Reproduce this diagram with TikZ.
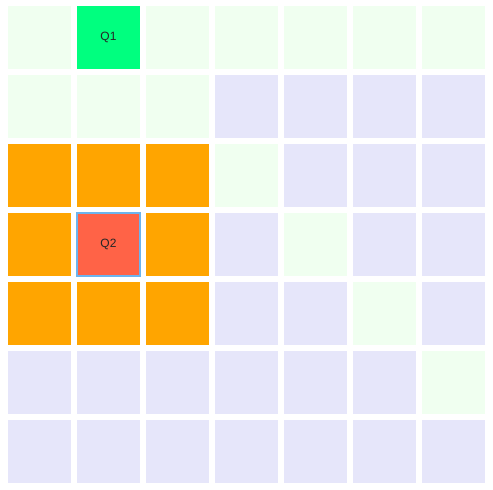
\documentclass[tikz,border=0pt]{standalone}
\usepackage{fontspec}
\setmainfont{Liberation Sans}
\definecolor{honey}{HTML}{F0FFF0}
\definecolor{lav}{HTML}{E6E6FA}
\definecolor{orng}{HTML}{FFA500}
\definecolor{spring}{HTML}{00FF7F}
\definecolor{tomato}{HTML}{FF6347}
\definecolor{edgeblue}{HTML}{6CB4EE}
\tikzset{
  cell/.style={rectangle, minimum size=63pt, inner sep=0pt, outer sep=0pt, font=\fontsize{12}{14}\selectfont, text=black!85},
}

\begin{document}
\begin{tikzpicture}[x=1pt, y=-1pt]
  \useasboundingbox (0,0) rectangle (493,490);
  \foreach \row/\cols in {0/{honey,honey,honey,honey,honey,honey,honey},
                          1/{honey,honey,honey,lav,lav,lav,lav},
                          2/{orng,orng,orng,honey,lav,lav,lav},
                          3/{orng,orng,orng,lav,honey,lav,lav},
                          4/{orng,orng,orng,lav,lav,honey,lav},
                          5/{lav,lav,lav,lav,lav,lav,honey},
                          6/{lav,lav,lav,lav,lav,lav,lav}} {
    \foreach \c [count=\col from 0] in \cols {
      \node[cell, fill=\c] (c\row\col) at (39.5+69*\col, 37.5+69*\row) {};
    }
  }
  % queens
  \node[cell, fill=spring] (q1) at (c01) {Q1};
  \node[cell, fill=tomato, draw=edgeblue, line width=1.5pt] (q2) at (c31) {Q2};
\end{tikzpicture}
\end{document}
